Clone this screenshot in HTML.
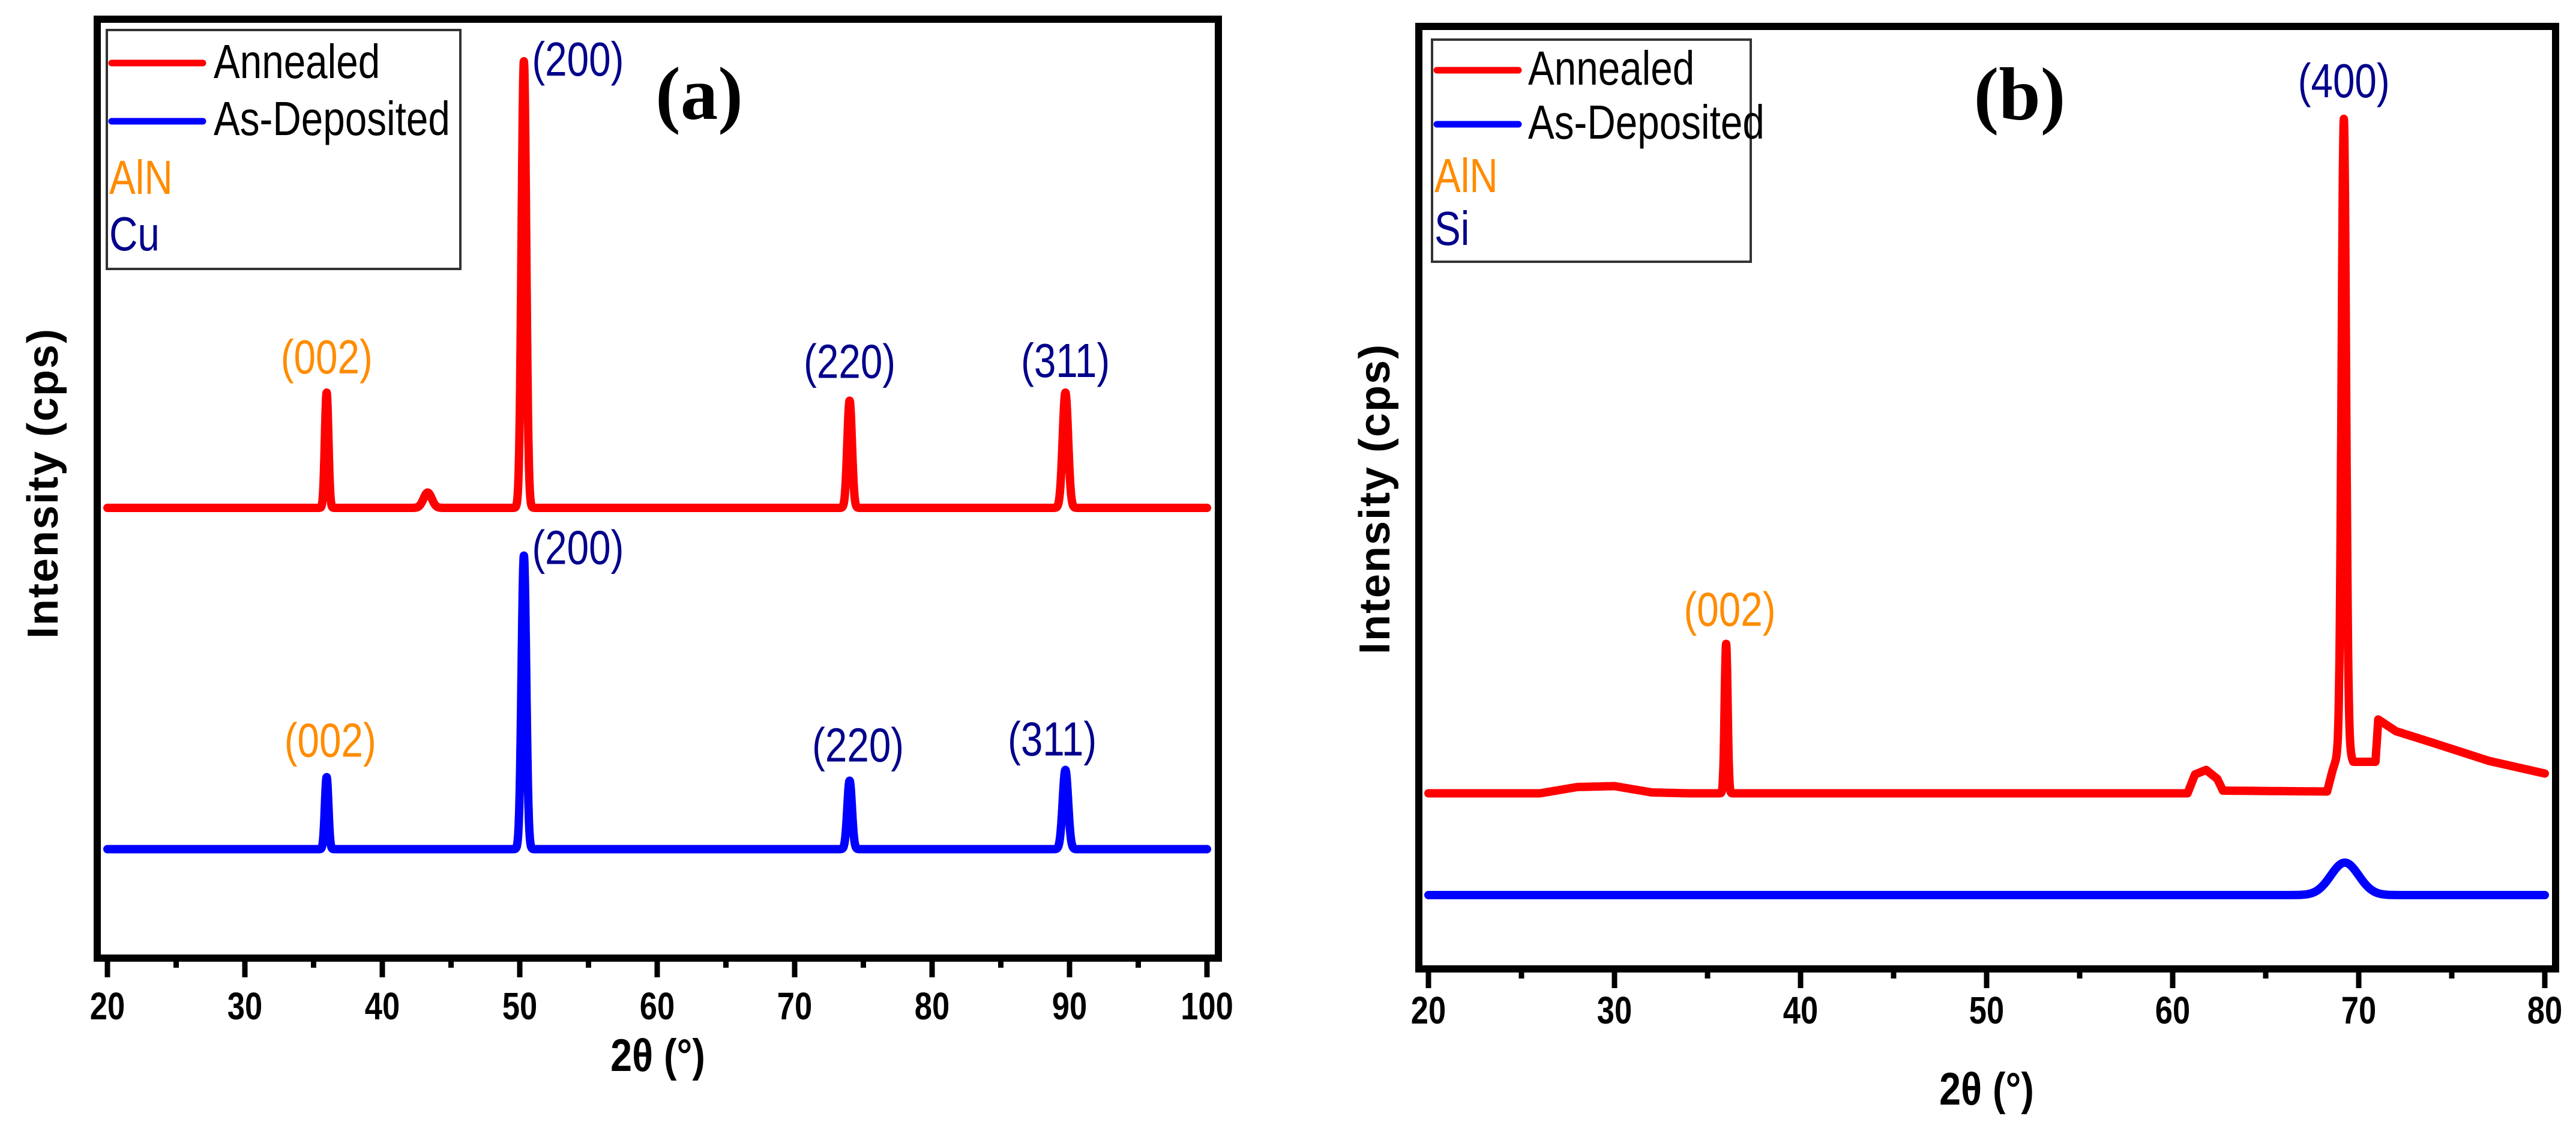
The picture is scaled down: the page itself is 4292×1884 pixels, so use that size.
<!DOCTYPE html>
<html><head><meta charset="utf-8">
<style>
html,body{margin:0;padding:0;background:#fff;}
svg{display:block;}
.tick{font-family:"Liberation Sans Narrow","Liberation Sans",sans-serif;font-weight:bold;font-size:64px;fill:#000;}
.lg{font-family:"Liberation Sans Narrow","Liberation Sans",sans-serif;font-size:80px;}
.pk{font-family:"Liberation Sans Narrow","Liberation Sans",sans-serif;font-size:80px;}
.yt{font-family:"Liberation Sans",sans-serif;font-weight:bold;font-size:72px;letter-spacing:2px;}
.xt{font-family:"Liberation Sans Narrow","Liberation Sans",sans-serif;font-weight:bold;font-size:76px;}
.pl{font-family:"Liberation Serif",serif;font-weight:bold;font-size:125px;}
</style></head>
<body>
<svg id="fig" width="4292" height="1884" viewBox="0 0 4292 1884" xmlns="http://www.w3.org/2000/svg">
<rect width="4292" height="1884" fill="#fff"/>
<g id="panelA"></g>
<g id="panelB"></g>
</svg>
<script>
// ---------- Panel (a) data ----------
const aXTicks = [20,30,40,50,60,70,80,90,100];
const aAnnBase = 496;
const aAnnPos = [35.95, 50.3, 74.0, 89.7, 43.3];
const aAnnHeight = [128, 496, 119, 128, 17];
const aAnnSigma = [0.13, 0.17, 0.17, 0.2, 0.3];
const aDepBase = 117;
const aDepPos = [35.95, 50.3, 74.0, 89.7];
const aDepHeight = [80, 326, 76, 88];
const aDepSigma = [0.13, 0.17, 0.17, 0.2];
const aAnnLabels = ["(002)","(200)","(220)","(311)"];
const aAnnLabelColors = ["#FF8C00","#00008B","#00008B","#00008B"];
const aDepLabels = ["(002)","(200)","(220)","(311)"];

// ---------- Panel (b) data ----------
const bXTicks = [20,30,40,50,60,70,80];
const bAnnBgX = [20,26,28,30,32,34,60.8,61.2,61.8,62.4,62.7,68.3,68.6,69,69.5,69.7,70.9,71.05,72,74,77,80];
const bAnnBgV = [189,189,196,197,190,189,189,210,215,205,192,191,215,240,235,224,224,271,258,245,225,211];
const bAnnPos = [36.0, 69.2];
const bAnnHeight = [166, 700];
const bAnnSigma = [0.08, 0.12];
const bDepBase = 76;
const bDepPos = [69.25];
const bDepHeight = [36];
const bDepSigma = [0.75];
const bAnnLabels = ["(002)","(400)"];
const bAnnLabelColors = ["#FF8C00","#00008B"];

const NS = "http://www.w3.org/2000/svg";
function mk(tag, attrs, parent){
  const e = document.createElementNS(NS, tag);
  for (const k in attrs) e.setAttribute(k, attrs[k]);
  parent.appendChild(e);
  return e;
}
function narrow(t, f){
  const w = t.getComputedTextLength();
  if (w > 0){ t.setAttribute("textLength", (w*f).toFixed(1)); t.setAttribute("lengthAdjust","spacingAndGlyphs"); }
}
function gauss(x, pos, h, s){
  let v = 0;
  for (let i=0;i<pos.length;i++){ const d=(x-pos[i])/s[i]; v += h[i]*Math.exp(-0.5*d*d); }
  return v;
}
function interpBg(x, xs, vs){
  if (x<=xs[0]) return vs[0];
  for (let i=1;i<xs.length;i++){
    if (x<=xs[i]){ const t=(x-xs[i-1])/(xs[i]-xs[i-1]); return vs[i-1]+t*(vs[i]-vs[i-1]); }
  }
  return vs[vs.length-1];
}
function buildPath(x0,x1,step,fn,sx,sy){
  let d="";
  for (let x=x0; x<=x1+1e-9; x+=step){
    d += (d?"L":"M") + sx(x).toFixed(1) + "," + sy(fn(x)).toFixed(1);
  }
  return d;
}
function axesFrame(g, L, R, T, B, sw, ticks, sx, minorStep, tickLabelY, name){
  const f = mk("rect",{x:L,y:T,width:R-L,height:B-T,fill:"none",stroke:"#000","stroke-width":sw},g);
  
  
  const axG = mk("g",{},g);
  
  
  const t0 = ticks[0], t1 = ticks[ticks.length-1];
  for (let v=t0; v<=t1+1e-9; v+=minorStep){
    const major = ticks.indexOf(Math.round(v))>=0 && Math.abs(v-Math.round(v))<1e-6;
    mk("line",{x1:sx(v),x2:sx(v),y1:B,y2:B+sw/2+(major?26:10),stroke:"#000","stroke-width":9},axG);
  }
  for (let i=0;i<ticks.length;i++){
    const t = mk("text",{x:sx(ticks[i]),y:tickLabelY,"text-anchor":"middle",class:"tick"},axG);
    t.textContent = ticks[i];
    
    
    narrow(t,0.82);
  }
}
function legend(g, x, y, w, h, lineX1, lineX2, textX, rows, fs){
  const lg = mk("g",{},g);
  
  
  mk("rect",{x:x,y:y,width:w,height:h,fill:"#fff",stroke:"#333","stroke-width":4},lg);
  for (const r of rows){
    const eg = mk("g",{},lg);
    
    
    if (r.line){
      mk("line",{x1:lineX1,x2:lineX2,y1:r.ly,y2:r.ly,stroke:r.line,"stroke-width":11,"stroke-linecap":"round"},eg);
    }
    const t = mk("text",{x:r.line?textX:lineX1-4,y:r.by,class:"lg",fill:r.color,"font-size":fs},eg);
    t.textContent = r.text;
    narrow(t,0.82);
  }
}

// ---------- Panel (a) ----------
(function(){
  const g = document.getElementById("panelA");
  const L=162,R=2030,T=32,B=1596;
  const sx = x => 179 + (x-20)*(2011-179)/80;
  const sy = v => 1590 - v*1.5;
  axesFrame(g,L,R,T,B,12,aXTicks,sx,5,1698,"panel-a");
  const ann = mk("path",{d:buildPath(20,100,0.01,x=>aAnnBase+gauss(x,aAnnPos,aAnnHeight,aAnnSigma),sx,sy),fill:"none",stroke:"#FF0000","stroke-width":14,"stroke-linejoin":"round","stroke-linecap":"round"},g);
  
  
  const dep = mk("path",{d:buildPath(20,100,0.01,x=>aDepBase+gauss(x,aDepPos,aDepHeight,aDepSigma),sx,sy),fill:"none",stroke:"#0000FF","stroke-width":14,"stroke-linejoin":"round","stroke-linecap":"round"},g);
  
  
  const annTops = [0,1,2,3].map(i=>aAnnBase+aAnnHeight[i]);
  const annLX = [sx(aAnnPos[0]), sx(aAnnPos[1])+90, sx(aAnnPos[2]), sx(aAnnPos[3])];
  const annLY = [sy(annTops[0])-32, sy(annTops[1])+24, sy(annTops[2])-38, sy(annTops[3])-26];
  for (let i=0;i<4;i++){
    const t = mk("text",{x:annLX[i],y:annLY[i],"text-anchor":"middle",class:"pk",fill:aAnnLabelColors[i]},g);
    t.textContent = aAnnLabels[i];
    
    
    narrow(t,0.82);
  }
  const depTops = [0,1,2,3].map(i=>aDepBase+aDepHeight[i]);
  const depLX = [sx(aDepPos[0])+6, sx(aDepPos[1])+90, sx(aDepPos[2])+14, sx(aDepPos[3])-22];
  const depLY = [sy(depTops[0])-34, sy(depTops[1])+14, sy(depTops[2])-32, sy(depTops[3])-24];
  for (let i=0;i<4;i++){
    const t = mk("text",{x:depLX[i],y:depLY[i],"text-anchor":"middle",class:"pk",fill:aAnnLabelColors[i]},g);
    t.textContent = aDepLabels[i];
    
    
    narrow(t,0.82);
  }
  legend(g,178,50,589,398,186,338,356,[
    {line:"#FF0000",ly:105,by:130,text:"Annealed",color:"#000"},
    {line:"#0000FF",ly:202,by:225,text:"As-Deposited",color:"#000"},
    {by:323,text:"AlN",color:"#FF8C00"},
    {by:417,text:"Cu",color:"#00008B"}],80);
  const pl = mk("text",{x:1165,y:198,"text-anchor":"middle",class:"pl"},g);
  pl.textContent="(a)";
  
  
  const yt = mk("text",{x:0,y:0,"text-anchor":"middle",class:"yt",transform:"translate(96,805) rotate(-90)"},g);
  yt.textContent="Intensity (cps)";
  
  
  const xt = mk("text",{x:1096,y:1784,"text-anchor":"middle",class:"xt"},g);
  xt.textContent="2θ (°)";
  
  
  narrow(xt,0.85);
})();

// ---------- Panel (b) ----------
(function(){
  const g = document.getElementById("panelB");
  const L=2364,R=4258,T=44,B=1614;
  const sx = x => 2380 + (x-20)*(4240-2380)/60;
  const sy = v => 1605 - v*1.5;
  axesFrame(g,L,R,T,B,12,bXTicks,sx,5,1705,"panel-b");
  const ann = mk("path",{d:buildPath(20,80,0.01,x=>interpBg(x,bAnnBgX,bAnnBgV)+gauss(x,bAnnPos,bAnnHeight,bAnnSigma),sx,sy),fill:"none",stroke:"#FF0000","stroke-width":14,"stroke-linejoin":"round","stroke-linecap":"round"},g);
  
  
  const dep = mk("path",{d:buildPath(20,80,0.01,x=>bDepBase+gauss(x,bDepPos,bDepHeight,bDepSigma),sx,sy),fill:"none",stroke:"#0000FF","stroke-width":14,"stroke-linejoin":"round","stroke-linecap":"round"},g);
  
  
  const tops = [0,1].map(i=>interpBg(bAnnPos[i],bAnnBgX,bAnnBgV)+bAnnHeight[i]);
  const lx = [sx(bAnnPos[0])+6, sx(bAnnPos[1])];
  const ly = [sy(tops[0])-30, sy(tops[1])-36];
  for (let i=0;i<2;i++){
    const t = mk("text",{x:lx[i],y:ly[i],"text-anchor":"middle",class:"pk",fill:bAnnLabelColors[i]},g);
    t.textContent = bAnnLabels[i];
    
    
    narrow(t,0.82);
  }
  legend(g,2386,66,531,370,2394,2530,2546,[
    {line:"#FF0000",ly:117,by:141,text:"Annealed",color:"#000"},
    {line:"#0000FF",ly:207,by:231,text:"As-Deposited",color:"#000"},
    {by:320,text:"AlN",color:"#FF8C00"},
    {by:408,text:"Si",color:"#00008B"}],74);
  const pl = mk("text",{x:3365,y:199,"text-anchor":"middle",class:"pl"},g);
  pl.textContent="(b)";
  
  
  const yt = mk("text",{x:0,y:0,"text-anchor":"middle",class:"yt",transform:"translate(2315,831) rotate(-90)"},g);
  yt.textContent="Intensity (cps)";
  
  
  const xt = mk("text",{x:3310,y:1840,"text-anchor":"middle",class:"xt"},g);
  xt.textContent="2θ (°)";
  
  
  narrow(xt,0.85);
})();
</script>
</body></html>
